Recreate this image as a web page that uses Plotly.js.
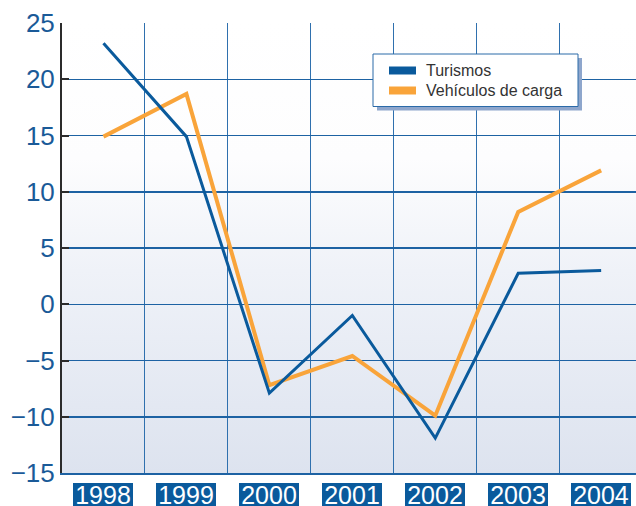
<!DOCTYPE html>
<html>
<head>
<meta charset="utf-8">
<script src="https://cdn.plot.ly/plotly-3.0.1.min.js"></script>
<style>
  html, body { margin: 0; padding: 0; background: #fff; }
  #chart { width: 636px; height: 506px; }
</style>
</head>
<body>
<div id="chart"></div>
<script>
var years = [1998, 1999, 2000, 2001, 2002, 2003, 2004];
var seriesNames = ["Turismos", "Vehículos de carga"];
var turismos = [23.2, 14.9, -7.9, -1.0, -11.9, 2.75, 3.0];
var vehiculosCarga = [14.9, 18.7, -7.2, -4.6, -9.9, 8.2, 11.9];
var seriesColors = ["#0a5a9c", "#f9a43a"];

var FONT = "Liberation Sans, Arial, sans-serif";

// plot area in pixels: x 62..636, y 23..473
function px(x) { return (x - 62) / 574; }
function py(y) { return (473 - y) / 450; }

var traces = [
    {
        x: years,
        y: vehiculosCarga,
        type: 'scatter',
        mode: 'lines',
        name: seriesNames[1],
        line: { color: seriesColors[1], width: 4 }
    },
    {
        x: years,
        y: turismos,
        type: 'scatter',
        mode: 'lines',
        name: seriesNames[0],
        line: { color: seriesColors[0], width: 3 }
    }
];

var gradSvg = "<svg xmlns='http://www.w3.org/2000/svg' width='10' height='100' viewBox='0 0 10 100' preserveAspectRatio='none'>" +
    "<defs><linearGradient id='g' x1='0' y1='0' x2='0' y2='1'>" +
    "<stop offset='0' stop-color='#ffffff'/>" +
    "<stop offset='0.3' stop-color='#fdfdfe'/>" +
    "<stop offset='0.55' stop-color='#eff2f8'/>" +
    "<stop offset='1' stop-color='#dde3ef'/>" +
    "</linearGradient></defs><rect width='10' height='100' fill='url(#g)'/></svg>";

// year labels: white text on dark blue boxes under the plot
var annotations = years.map(function (yr) {
    return {
        x: yr, xref: 'x',
        y: py(483), yref: 'paper',
        xanchor: 'center', yanchor: 'top',
        text: String(yr),
        showarrow: false,
        width: 60,
        height: 23,
        valign: 'middle',
        bgcolor: '#0a5a9c',
        borderwidth: 0,
        borderpad: 0,
        font: { family: FONT, size: 25, color: '#ffffff' }
    };
});

var shapes = [
    // legend shadow
    { type: 'rect', xref: 'paper', yref: 'paper', x0: px(377), x1: px(582), y0: py(58), y1: py(110.5),
      fillcolor: '#8ea6cc', line: { width: 0 }, layer: 'above' },
    // legend box
    { type: 'rect', xref: 'paper', yref: 'paper', x0: px(373), x1: px(578), y0: py(54), y1: py(106.5),
      fillcolor: '#ffffff', line: { color: '#2a6aa8', width: 1 }, layer: 'above' }
];

seriesNames.forEach(function (name, i) {
    var cy = 70.5 + i * 20;
    shapes.push({
        type: 'rect', xref: 'paper', yref: 'paper',
        x0: px(389), x1: px(416), y0: py(cy - 4), y1: py(cy + 4),
        fillcolor: seriesColors[i], line: { width: 0 }, layer: 'above'
    });
    annotations.push({
        x: px(424), xref: 'paper', y: py(cy), yref: 'paper',
        xanchor: 'left', yanchor: 'middle',
        text: name, showarrow: false,
        font: { family: FONT, size: 16, color: '#333333' }
    });
});

var layout = {
    width: 636,
    height: 506,
    margin: { l: 62, r: 0, t: 23, b: 33, pad: 0 },
    paper_bgcolor: '#ffffff',
    plot_bgcolor: 'rgba(0,0,0,0)',
    showlegend: false,
    font: { family: FONT },
    images: [{
        source: 'data:image/svg+xml;charset=utf-8,' + encodeURIComponent(gradSvg),
        xref: 'paper', yref: 'paper', x: 0, y: 1, sizex: 1, sizey: 1,
        xanchor: 'left', yanchor: 'top', sizing: 'stretch', layer: 'below'
    }],
    xaxis: {
        type: 'linear',
        range: [1997.5, 2004.42],
        showgrid: false,
        zeroline: false,
        showticklabels: false,
        ticks: '',
        showline: true,
        linecolor: '#1d62a3',
        linewidth: 1.5,
        minor: { tick0: 1997.5, dtick: 1, showgrid: true, gridcolor: '#2f70ae', gridwidth: 1, ticks: '' }
    },
    yaxis: {
        range: [-15, 25],
        dtick: 5,
        tick0: 0,
        showgrid: true,
        gridcolor: '#1d62a3',
        gridwidth: 1.5,
        zeroline: false,
        showline: true,
        linecolor: '#2b2b2b',
        linewidth: 2,
        ticks: 'inside',
        ticklen: 7,
        tickwidth: 2,
        tickcolor: '#2b2b2b',
        ticklabelstandoff: 0,
        tickfont: { family: FONT, size: 26, color: '#1a5a98' }
    },
    shapes: shapes,
    annotations: annotations
};

Plotly.newPlot('chart', traces, layout, { staticPlot: true });
</script>
</body>
</html>
